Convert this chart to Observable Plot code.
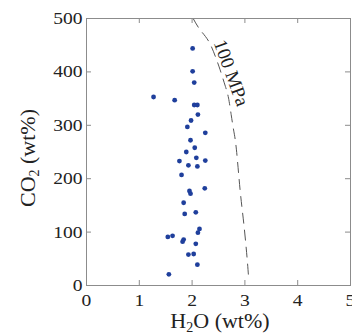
<!DOCTYPE html>
<html>
<head>
<meta charset="utf-8">
<script src="https://cdn.jsdelivr.net/npm/d3@7"></script>
<script src="https://cdn.jsdelivr.net/npm/@observablehq/plot@0.6"></script>
<style>
  html, body { margin: 0; padding: 0; background: #fff; }
  svg { display: block; }
</style>
</head>
<body>
<div id="chart"></div>
<script>
// Data points (H2O wt%, CO2)
const h2o = [2.01, 2.01, 2.04, 1.27, 1.67, 2.04, 2.10, 2.11, 1.98, 1.91, 2.25, 1.97, 2.05, 1.89, 2.08, 1.76, 2.25, 1.93, 2.10, 1.80, 2.24, 1.95, 1.97, 1.84, 1.86, 2.07, 2.14, 2.11, 1.54, 1.63, 1.84, 1.82, 2.07, 1.93, 2.03, 2.10, 1.56];
const co2 = [444, 401, 380, 353, 347, 338, 338, 320, 309, 297, 286, 272, 258, 250, 239, 233, 234, 225, 223, 207, 182, 177, 172, 155, 134, 137, 106, 99, 91, 93, 86, 82, 78, 58, 59, 39, 21];

// 100 MPa isobar
const isoH2O = [2.02, 2.15, 2.31, 2.44, 2.53, 2.63, 2.69, 2.74, 2.79, 2.84, 2.91, 2.98, 3.04, 3.07];
const isoCO2 = [500, 479, 458, 429, 404, 373, 351, 320, 289, 254, 178, 115, 53, 15];
const isoLabel = "100 MPa";

const xTicks = [0, 1, 2, 3, 4, 5];
const yTicks = [0, 100, 200, 300, 400, 500];

const points = h2o.map((x, i) => ({x, y: co2[i]}));
const iso = isoH2O.map((x, i) => ({x, y: isoCO2[i]}));

const font = "'Liberation Serif', 'Times New Roman', serif";
const axisGrey = "#8c8c8c";
const W = 352, H = 335, mL = 86, mR = 2, mT = 18, mB = 50;
const tickLen = 5;
const innerW = W - mL - mR, innerH = H - mT - mB;

const svg = Plot.plot({
  width: W,
  height: H,
  marginLeft: mL,
  marginRight: mR,
  marginTop: mT,
  marginBottom: mB,
  style: {fontFamily: font, fontSize: "17px", color: "#222", background: "#fff"},
  x: {domain: [0, 5]},
  y: {domain: [0, 500]},
  marks: [
    Plot.line(iso, {x: "x", y: "y", curve: "natural", stroke: "#555", strokeWidth: 1, strokeDasharray: "10,7"}),
    Plot.text([{x: 2.74, y: 398}], {x: "x", y: "y", text: () => isoLabel, rotate: 70, fontSize: 19, fill: "#222"}),
    Plot.dot(points, {x: "x", y: "y", r: 2.4, fill: "#1f3f9c"}),
    // inward ticks on all four sides
    Plot.tickX(xTicks, {x: d => d, insetTop: innerH - tickLen, stroke: axisGrey}),
    Plot.tickX(xTicks, {x: d => d, insetBottom: innerH - tickLen, stroke: axisGrey}),
    Plot.tickY(yTicks, {y: d => d, insetRight: innerW - tickLen, stroke: axisGrey}),
    Plot.tickY(yTicks, {y: d => d, insetLeft: innerW - tickLen, stroke: axisGrey}),
    Plot.frame({stroke: axisGrey}),
    Plot.axisX({anchor: "bottom", ticks: xTicks, tickSize: 0, tickPadding: 8, tickFormat: "d", fill: "#222", label: null, fontSize: 17}),
    Plot.axisY({anchor: "left", ticks: yTicks, tickSize: 0, tickPadding: 4, tickFormat: "d", fill: "#222", label: null, fontSize: 17})
  ]
});

document.getElementById("chart").appendChild(svg);

// slight horizontal stretch for tick labels, as in the reference
d3.select(svg).selectAll("g[aria-label='x-axis tick label'] text, g[aria-label='y-axis tick label'] text")
  .each(function() {
    const t = this.getAttribute("transform") || "";
    this.setAttribute("transform", t + " scale(1.15,1)");
  });

// axis titles with subscripts
const s = d3.select(svg);
const xl = s.append("text")
  .attr("x", 220).attr("y", 328)
  .attr("text-anchor", "middle")
  .attr("font-family", font).attr("font-size", 22).attr("fill", "#222");
xl.append("tspan").text("H");
xl.append("tspan").attr("font-size", 14).attr("dy", 4).text("2");
xl.append("tspan").attr("dy", -4).text("O (wt%)");

const yl = s.append("text")
  .attr("transform", "translate(35,158) rotate(-90)")
  .attr("text-anchor", "middle")
  .attr("font-family", font).attr("font-size", 22).attr("fill", "#222");
yl.append("tspan").text("CO");
yl.append("tspan").attr("font-size", 14).attr("dy", 4).text("2");
yl.append("tspan").attr("dy", -4).text(" (wt%)");
</script>
</body>
</html>
